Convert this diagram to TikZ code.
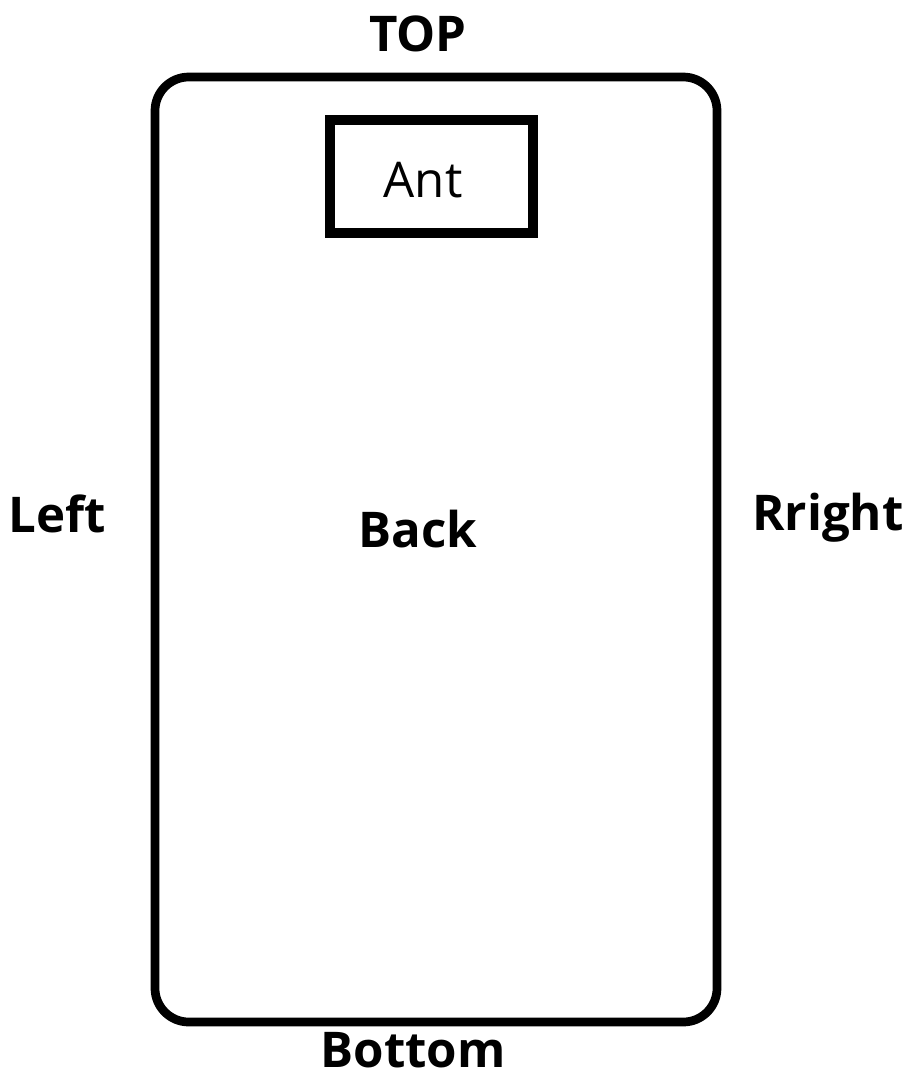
\documentclass[tikz,border=0pt]{standalone}
\usepackage{fontspec}
\setmainfont{Open Sans}
\begin{document}
\begin{tikzpicture}[x=0.025cm,y=-0.025cm]

        \useasboundingbox (0,0) rectangle (910,1079);

        \draw[line width=6.2pt,rounded corners=24pt] (155,77) rectangle (717,1022);
        \draw[line width=6.6pt] (330,120) rectangle (533,233);

        \begin{scope}[every node/.style={anchor=base,inner sep=0pt,text depth=0pt,font=\fontsize{35}{35}\selectfont\bfseries}]
          \node (top)    at (418,51)   {TOP};
          \node (left)   at (57,532)   {Left};
          \node (back)   at (418,547)  {Back};
          \node (right)  at (828,530)  {Rright};
          \node (bottom) at (413,1067) {Bottom};
        \end{scope}

        \node[anchor=base,inner sep=0pt,font=\fontsize{35}{35}\selectfont] (ant) at (423,197) {Ant};

      \end{tikzpicture}
\end{document}
